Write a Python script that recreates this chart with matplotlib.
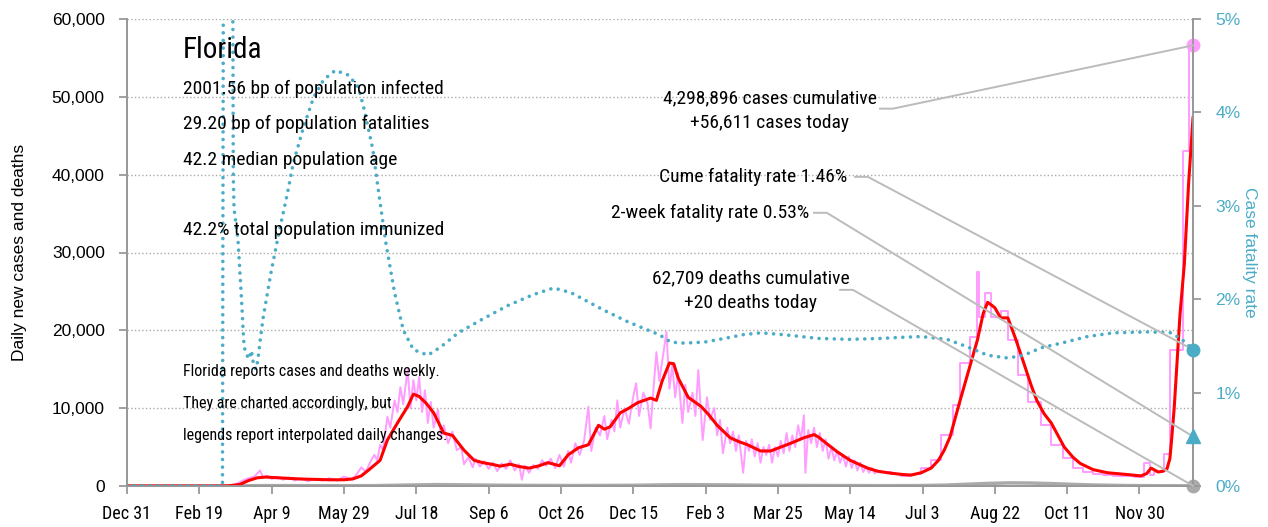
import numpy as np
import pandas as pd
import matplotlib
matplotlib.use("Agg")
import matplotlib.pyplot as plt
import matplotlib.dates as mdates
from matplotlib import font_manager

installed = {f.name for f in font_manager.fontManager.ttflist}
NARROW = next((n for n in ["Liberation Sans Narrow", "DejaVu Sans Condensed", "Roboto Condensed"]
               if n in installed), "DejaVu Sans")
REGULAR = "Liberation Sans" if "Liberation Sans" in installed else "DejaVu Sans"

START = pd.Timestamp("2019-12-31")

# ---- data: day numbers counted from Dec 31, 2019 ----
# 7-day average of new cases (red)
avg_days = [0, 60, 70, 78, 84, 90, 96, 100, 110, 120, 130, 140, 150, 156, 162, 168, 175, 180, 187,
            194, 198, 202, 207, 212, 219, 225, 233, 240, 246, 252, 258, 265, 271, 278, 285, 291, 299,
            305, 312, 319, 326, 330, 334, 341, 347, 353, 362, 366, 370, 375, 378, 381, 388, 397, 402,
            408, 417, 423, 429, 438, 445, 452, 459, 468, 475, 478, 482, 491, 500, 506, 512, 519, 526,
            535, 542, 549, 556, 561, 565, 569, 576, 582, 588, 592, 595, 598, 600, 604, 609, 614, 620,
            625, 629, 634, 639, 648, 654, 659, 668, 678, 690, 701, 705, 708, 711, 713, 716, 719, 721,
            722, 724, 726, 728, 731, 734, 737]
avg_cases = [0, 0, 20, 200, 700, 1050, 1150, 1100, 1000, 900, 850, 800, 800, 900, 1300, 2200, 3300,
             5900, 8100, 10200, 11800, 11500, 10600, 9400, 6800, 6500, 4600, 3300, 3000, 2800, 2550,
             2800, 2500, 2300, 2600, 3000, 2600, 4000, 4900, 5300, 7800, 7300, 7600, 9400, 10000,
             10700, 11300, 11000, 13500, 15800, 15700, 13900, 11400, 10200, 9200, 7800, 6200, 5700,
             5300, 4500, 4500, 5000, 5500, 6200, 6600, 6300, 5700, 4400, 3300, 2800, 2300, 1900, 1700,
             1500, 1400, 1700, 2300, 3300, 4600, 6300, 11000, 14900, 18800, 22200, 23600, 23200, 22900,
             21600, 21600, 19100, 15800, 13000, 11000, 9300, 8100, 5000, 3700, 2900, 2100, 1700, 1500,
             1300, 1600, 2300, 2000, 1800, 1900, 2200, 3500, 5500, 10000, 16000, 22000, 28500, 39000,
             47300]

# daily new cases while Florida reported daily (pink)
daily_days = [0, 60, 66, 70, 75, 80, 84, 88, 92, 94, 97, 100, 104, 108, 112, 116, 120, 125, 130, 135,
              140, 145, 150, 155, 158, 162, 165, 168, 171, 173, 175, 177, 180, 182, 185, 187, 189, 191,
              194, 196, 198, 200, 202, 204, 206, 208, 210, 212, 215, 217, 219, 222, 225, 228, 231, 233,
              236, 239, 241, 244, 247, 250, 253, 256, 259, 262, 265, 268, 271, 273, 275, 278, 281, 284,
              287, 290, 293, 296, 299, 302, 305, 307, 310, 313, 316, 319, 321, 324, 327, 330, 332, 335,
              337, 339, 341, 344, 347, 350, 352, 354, 357, 360, 362, 364, 366, 368, 370, 373, 375, 377,
              379, 381, 384, 386, 388, 391, 393, 395, 398, 401, 403, 406, 408, 410, 412, 415, 417, 419,
              421, 423, 426, 428, 430, 432, 434, 436, 438, 440, 442, 444, 446, 448, 450, 452, 454, 456,
              458, 460, 462, 464, 466, 468, 469, 471, 473, 475, 477, 479, 481, 483, 485, 487, 489, 491,
              493, 495, 497, 499, 501, 503, 505, 507, 509, 511, 513, 515, 517, 519, 521]
daily_cases = [0, 0, 10, 50, 200, 700, 1000, 1200, 2000, 1100, 1300, 900, 1200, 800, 1100, 700, 1000,
               600, 900, 700, 1000, 700, 1200, 900, 1300, 2400, 1800, 3000, 4000, 3300, 5300, 4600,
               8900, 7500, 11000, 9500, 12700, 10500, 15000, 10000, 13600, 11000, 14000, 9500, 12300,
               8100, 10800, 7500, 9800, 6300, 7800, 5500, 7000, 4600, 5000, 2800, 3700, 2400, 3500,
               2500, 3200, 2200, 3000, 1900, 2900, 2200, 3300, 2000, 2800, 800, 2600, 1700, 2700, 2200,
               3300, 2600, 3500, 2300, 4000, 2500, 4500, 3000, 5500, 4000, 5800, 10200, 4500, 7500,
               6500, 9000, 6000, 8500, 7000, 11000, 7500, 10000, 8000, 11500, 13200, 9000, 12000, 10500,
               7400, 12500, 17200, 13500, 16000, 19800, 12500, 15500, 11400, 14500, 8100, 13000, 9500,
               12000, 9000, 14900, 5900, 11400, 8500, 10000, 6500, 8500, 4200, 7500, 5500, 7000, 4500,
               6500, 1700, 5800, 4500, 6000, 3800, 5500, 3000, 5000, 4000, 5300, 3000, 5000, 3800, 5800,
               4200, 6800, 4500, 6500, 5000, 7800, 6000, 9100, 1700, 7200, 5500, 7500, 5000, 6800, 4500,
               6000, 3500, 5000, 3300, 4500, 3000, 4000, 2500, 3800, 2300, 3300, 2000, 3000, 1800, 2500,
               1700, 2300, 1600, 2000, 1800]

# weekly reporting from June 2021, shown as steps (pink)
weekly_days = [521, 528, 535, 542, 549, 556, 563, 571, 576, 583, 588, 589, 593, 597, 604, 609, 616,
               623, 632, 639, 647, 654, 661, 668, 675, 682, 689, 696, 703, 707, 710, 717, 721, 730,
               734, 737]
weekly_cases = [1800, 1600, 1300, 1500, 2300, 3300, 6600, 10400, 15800, 19100, 27500, 21700, 24800,
                21700, 22500, 18800, 14300, 10800, 7800, 5300, 3600, 2300, 1800, 1500, 1400, 1300, 1300,
                1200, 3000, 1400, 1800, 4100, 17500, 43100, 56611, 56611]

# daily deaths, 7-day average (gray)
death_days = [0, 65, 80, 95, 110, 130, 150, 170, 185, 200, 215, 230, 250, 270, 290, 310, 330, 350,
              370, 385, 400, 420, 440, 460, 480, 500, 520, 545, 565, 580, 595, 610, 625, 640, 655,
              670, 690, 710, 737]
death_avg = [0, 0, 20, 50, 45, 40, 35, 45, 90, 140, 180, 150, 110, 80, 70, 60, 70, 90, 140, 170, 160,
             130, 90, 70, 60, 55, 45, 50, 110, 220, 330, 400, 380, 300, 200, 120, 60, 35, 20]

# case fatality rate, percent (teal, right axis)
cfr_days = [0, 66, 67, 72.5, 73.5, 74, 76.7, 78.8, 80.9, 82.2, 84.3, 86, 87.5, 89.1, 90.5, 92, 94,
            99.5, 105, 111, 115, 122, 129, 136, 144, 153, 160, 164, 170, 174, 179, 185, 191, 198,
            208, 217, 229, 245, 263, 281, 295, 307, 330, 346, 360, 368, 376, 385, 399, 413, 426,
            438, 454, 478, 500, 521, 533, 549, 567, 581, 595, 609, 620, 632, 646, 664, 682, 706,
            722, 730, 737]
cfr_pct = [0, 0, 9, 9, 3.3, 2.97, 2.64, 2.1, 1.5, 1.42, 1.36, 1.45, 1.3, 1.25, 1.35, 1.55, 1.79,
           2.28, 2.71, 3.14, 3.46, 3.84, 4.16, 4.35, 4.45, 4.40, 4.27, 4.03, 3.60, 3.14, 2.60, 2.07,
           1.67, 1.46, 1.40, 1.49, 1.64, 1.78, 1.93, 2.05, 2.12, 2.07, 1.88, 1.76, 1.67, 1.62, 1.54,
           1.53, 1.54, 1.58, 1.62, 1.64, 1.62, 1.58, 1.57, 1.58, 1.59, 1.60, 1.57, 1.49, 1.40, 1.37,
           1.40, 1.48, 1.53, 1.60, 1.64, 1.65, 1.64, 1.56, 1.46]

cases_today = 56611
deaths_today = 20
cume_cfr = 1.46
twoweek_cfr = 0.53

stats_lines = ["2001.56 bp of population infected",
               "29.20 bp of population fatalities",
               "42.2 median population age",
               "",
               "42.2% total population immunized"]
note_lines = ["Florida reports cases and deaths weekly.",
              "They are charted accordingly, but",
              "legends report interpolated daily changes."]

PINK = "#ff9cff"
TEAL = "#4bacc6"
GRAY = "#999999"
LINE = "#bbbbbb"


def to_dates(days):
    return START + pd.to_timedelta(np.asarray(days, dtype=float), unit="D")


fig = plt.figure(figsize=(12.68, 5.27), dpi=100, facecolor="w")
ax = fig.add_axes([127 / 1268, 41 / 527, 1066 / 1268, 467 / 527])
ax2 = ax.twinx()

ax.plot(to_dates(death_days), death_avg, color="#aaaaaa", lw=2.5, zorder=2)
ax.plot(to_dates(daily_days), daily_cases, color=PINK, lw=1.4, zorder=3)
ax.plot(to_dates(weekly_days), weekly_cases, color=PINK, lw=1.4, drawstyle="steps-post", zorder=3)
ax.plot(to_dates(avg_days), avg_cases, color="red", lw=2.2, zorder=4)
ax2.plot(to_dates(cfr_days), cfr_pct, color=TEAL, lw=2.6, linestyle=(0, (0.01, 2.1)),
         dash_capstyle="round", zorder=3)

last = to_dates([737])[0]
ax.plot([last], [cases_today], "o", color=PINK, ms=9, clip_on=False, zorder=6)
ax.plot([last], [deaths_today], "o", color="#aaaaaa", ms=9, clip_on=False, zorder=6)
ax2.plot([last], [cume_cfr], "o", color=TEAL, ms=9, clip_on=False, zorder=6)
ax2.plot([last], [twoweek_cfr], "^", color=TEAL, ms=10, clip_on=False, zorder=6)

ax.set_xlim(START, last)
ax.set_ylim(0, 60000)
ax2.set_ylim(0, 5)

ticks = to_dates(np.arange(0, 701, 50))
ax.set_xticks(ticks)
ax.set_xticklabels([f"{d:%b} {d.day}" for d in ticks], family=NARROW, fontsize=13)
ax.set_yticks(np.arange(0, 60001, 10000))
ax.set_yticklabels([f"{v:,}" for v in np.arange(0, 60001, 10000)], family=REGULAR, fontsize=12.5)
ax2.set_yticks(np.arange(0, 6))
ax2.set_yticklabels([f"{v}%" for v in range(6)], family=REGULAR, fontsize=12.5, color=TEAL)

ax.grid(axis="y", linestyle=":", color="#aaaaaa", lw=1)
ax.set_axisbelow(True)
for a in (ax, ax2):
    a.spines["top"].set_visible(False)
    for s in ("left", "right", "bottom"):
        a.spines[s].set_color(GRAY)
        a.spines[s].set_linewidth(1.3)
ax.tick_params(axis="both", color=GRAY, length=6, width=1.3)
ax.tick_params(axis="x", pad=8)
ax.tick_params(axis="y", pad=10)
ax2.tick_params(axis="y", color=GRAY, length=6, width=1.3, pad=10)

ax.set_ylabel("Daily new cases and deaths", family=REGULAR, fontsize=12.5, labelpad=18)
ax2.set_ylabel("Case fatality rate", family=REGULAR, fontsize=12.5, color=TEAL,
               rotation=270, labelpad=12)

# text block, top left
ax2.text(0.0525, 0.934, "Florida", transform=ax.transAxes, family=NARROW, fontsize=21,
         va="center", ha="left", zorder=7)
for i, line in enumerate(stats_lines):
    ax2.text(0.0525, 0.850 - i * 0.0755, line, transform=ax.transAxes, family=NARROW,
             fontsize=14, va="center", ha="left", zorder=7)
for i, line in enumerate(note_lines):
    ax2.text(0.0525, 0.246 - i * 0.0685, line, transform=ax.transAxes, family=NARROW,
             fontsize=11.5, va="center", ha="left", zorder=7)

# right side annotations with connector lines to the last values
labels = [
    (["4,298,896 cases cumulative", "+56,611 cases today"], 0.603, "center", 0.831,
     (0.7064, 0.808), ax, cases_today),
    (["Cume fatality rate 1.46%"], 0.676, "right", 0.662, (0.683, 0.662), ax2, cume_cfr),
    (["2-week fatality rate 0.53%"], 0.640, "right", 0.585, (0.6445, 0.585), ax2, twoweek_cfr),
    (["62,709 deaths cumulative", "+20 deaths today"], 0.585, "center", 0.445,
     (0.669, 0.420), ax, deaths_today),
]
xlast = mdates.date2num(last)
for lines, x, ha, y, start_pt, target_ax, yval in labels:
    for j, line in enumerate(lines):
        ax2.text(x, y - j * 0.053, line, transform=ax.transAxes, family=NARROW, fontsize=14,
                 ha=ha, va="center", zorder=7)
    disp = target_ax.transData.transform((xlast, yval))
    end = ax.transAxes.inverted().transform(disp)
    xs = [start_pt[0], start_pt[0] + 0.012, end[0]]
    ys = [start_pt[1], start_pt[1], end[1]]
    ax2.plot(xs, ys, color=LINE, lw=1.4, transform=ax.transAxes, clip_on=False, zorder=5)

fig.savefig("out.png", dpi=100, facecolor="w")
